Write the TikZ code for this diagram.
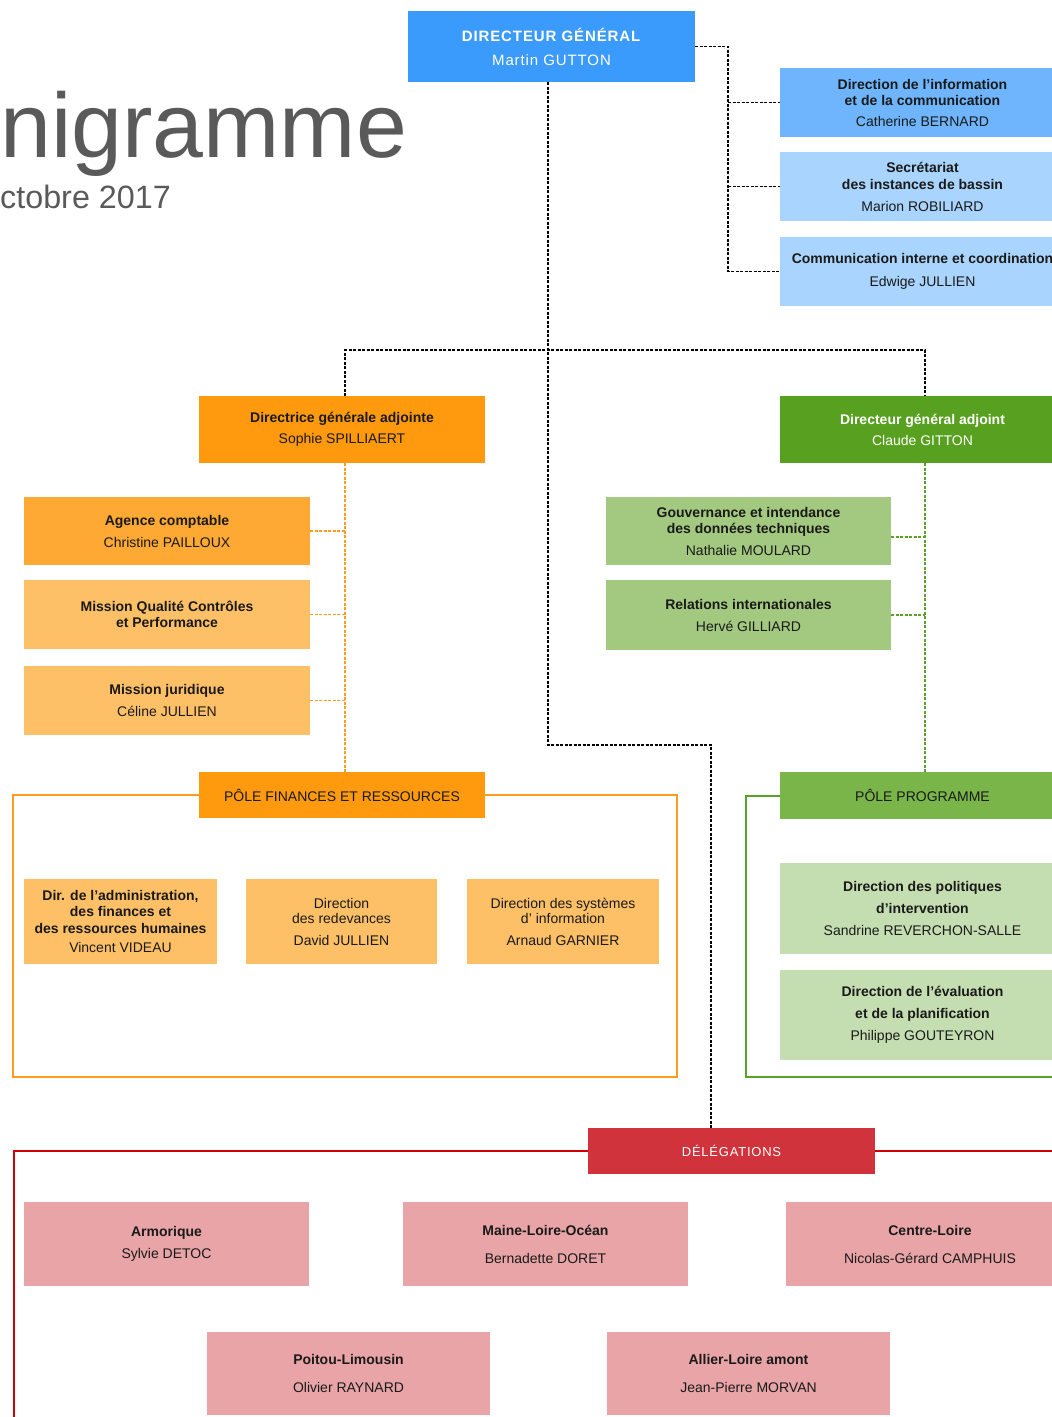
\documentclass[tikz,border=0pt]{standalone}
\usepackage{fontspec}
\setmainfont{Liberation Sans}
\usetikzlibrary{calc}
\definecolor{dgblue}{HTML}{3B9BFD}
\definecolor{midblue}{HTML}{6EB5FE}
\definecolor{ltblue}{HTML}{A9D4FE}
\definecolor{orgA}{HTML}{FF9A0E}
\definecolor{orgB}{HTML}{FFA935}
\definecolor{orgC}{HTML}{FEC067}
\definecolor{grnA}{HTML}{58A01F}
\definecolor{grnB}{HTML}{A3C87F}
\definecolor{grnC}{HTML}{7AB54A}
\definecolor{grnD}{HTML}{C5DEB1}
\definecolor{redA}{HTML}{D1333C}
\definecolor{pinkA}{HTML}{E8A4A7}
\definecolor{redline}{HTML}{CC0000}
\definecolor{orline}{HTML}{FF9B1E}
\definecolor{grline}{HTML}{5AA12A}
\definecolor{titlegray}{HTML}{5A5A5A}
\definecolor{txtc}{HTML}{1A1A1A}
\newcommand\bxfont{\fontsize{14}{16}\selectfont}
\begin{document}
\begin{tikzpicture}[x=1pt,y=-1pt,
  box/.style={rectangle, inner sep=0pt, outer sep=0pt, align=center, font=\bxfont, text=txtc},
  blk/.style={draw=black, line width=1.8pt, dash pattern=on 3pt off 1.5pt},
  orl/.style={draw=orline, line width=1.5pt, dash pattern=on 3pt off 1.5pt},
  grl/.style={draw=grline, line width=1.8pt, dash pattern=on 3pt off 1.5pt},
  orf/.style={draw=orline, line width=1.4pt},
  grf/.style={draw=grline, line width=2pt},
  rdf/.style={draw=redline, line width=2pt}]
\useasboundingbox (0,0) rectangle (1052,1417);
\fill[white] (0,0) rectangle (1052,1417);

% title
\node[anchor=base west, inner sep=0pt, text=titlegray, font=\fontsize{91.5}{91.5}\selectfont] (ttl) at (0,157) {nigramme};
\node[anchor=base west, inner sep=0pt, text=titlegray, font=\fontsize{32.3}{32.3}\selectfont] (sub) at (0,208) {ctobre 2017};

% director
\node[box, fill=dgblue, minimum width=287, minimum height=71, text=white, font=\fontsize{15}{24}\selectfont\addfontfeature{LetterSpace=6}] (dg) at (551.5,46.5) {\textbf{DIRECTEUR GÉNÉRAL}\\Martin GUTTON};

% attached to director
\node[box, fill=midblue, minimum width=285, minimum height=69] (i1) at (922.5,102.5) {\textbf{Direction de l'information}\\\textbf{et de la communication}\\[5pt]Catherine BERNARD};
\node[box, fill=ltblue, minimum width=285, minimum height=69] (i2) at (922.5,186.5) {\textbf{Secrétariat}\\[1pt]\textbf{des instances de bassin}\\[6pt]Marion ROBILIARD};
\node[box, fill=ltblue, minimum width=285, minimum height=69] (i3) at (922.5,271.5) {\textbf{Communication interne et coordination}\\[7pt]Edwige JULLIEN};

% deputies
\node[box, fill=orgA, minimum width=286, minimum height=67] (dga) at (342,429.5) {\textbf{Directrice générale adjointe}\\[5pt]Sophie SPILLIAERT};
\node[box, fill=grnA, minimum width=285, minimum height=67, text=white] (dgb) at (922.5,429.5) {\textbf{Directeur général adjoint}\\[5pt]Claude GITTON};

% left column
\node[box, fill=orgB, minimum width=286, minimum height=68] (ac) at (167,531) {\textbf{Agence comptable}\\[6pt]Christine PAILLOUX};
\node[box, fill=orgC, minimum width=286, minimum height=69] (mq) at (167,614.5) {\textbf{Mission Qualité Contrôles}\\\textbf{et Performance}};
\node[box, fill=orgC, minimum width=286, minimum height=69] (mj) at (167,700.5) {\textbf{Mission juridique}\\[6pt]Céline JULLIEN};
\node[box, fill=orgA, minimum width=286, minimum height=46] (pf) at (342,795) {PÔLE FINANCES ET RESSOURCES};
\node[box, fill=orgC, minimum width=193, minimum height=85] (d1) at (120.5,921.5) {\textbf{Dir. de l'administration,}\\[0.5pt]\textbf{des finances et}\\[1pt]\textbf{des ressources humaines}\\[3pt]Vincent VIDEAU};
\node[box, fill=orgC, minimum width=191, minimum height=85] (d2) at (341.5,921.5) {Direction\\[-1pt]des redevances\\[6pt]David JULLIEN};
\node[box, fill=orgC, minimum width=192, minimum height=85] (d3) at (563,921.5) {Direction des systèmes\\[-1pt]d' information\\[6pt]Arnaud GARNIER};

% right column
\node[box, fill=grnB, minimum width=285, minimum height=68] (gv) at (748.5,531) {\textbf{Gouvernance et intendance}\\\textbf{des données techniques}\\[6pt]Nathalie MOULARD};
\node[box, fill=grnB, minimum width=285, minimum height=70] (ri) at (748.5,615) {\textbf{Relations internationales}\\[6pt]Hervé GILLIARD};
\node[box, fill=grnC, minimum width=285, minimum height=47] (pp) at (922.5,795.5) {PÔLE PROGRAMME};
\node[box, fill=grnD, minimum width=285, minimum height=91] (dp) at (922.5,908.5) {\textbf{Direction des politiques}\\[6pt]\textbf{d'intervention}\\[6pt]Sandrine REVERCHON-SALLE};
\node[box, fill=grnD, minimum width=285, minimum height=90] (de) at (922.5,1015) {\textbf{Direction de l'évaluation}\\[6pt]\textbf{et de la planification}\\[6pt]Philippe GOUTEYRON};

% delegations
\node[box, fill=redA, minimum width=287, minimum height=46, text=white, font=\fontsize{13}{16}\selectfont\addfontfeature{LetterSpace=6}] (del) at (731.5,1151) {DÉLÉGATIONS};
\node[box, fill=pinkA, minimum width=285, minimum height=84] (arm) at (166.5,1244) {\textbf{Armorique}\\[6pt]Sylvie DETOC};
\node[box, fill=pinkA, minimum width=285, minimum height=84] (mlo) at (545.5,1244) {\textbf{Maine-Loire-Océan}\\[12pt]Bernadette DORET};
\node[box, fill=pinkA, minimum width=288, minimum height=84] (cl) at (930,1244) {\textbf{Centre-Loire}\\[12pt]Nicolas-Gérard CAMPHUIS};
\node[box, fill=pinkA, minimum width=283, minimum height=83] (pl) at (348.5,1373.5) {\textbf{Poitou-Limousin}\\[12pt]Olivier RAYNARD};
\node[box, fill=pinkA, minimum width=283, minimum height=83] (al) at (748.5,1373.5) {\textbf{Allier-Loire amont}\\[12pt]Jean-Pierre MORVAN};

% helper coordinates
\coordinate (dgs) at ($(dg.south)+(-3.5,0)$);
\coordinate (dln) at ($(del.north)+(-20.5,0)$);
\coordinate (dgan) at ($(dga.north)+(3,0)$);
\coordinate (dgbn) at ($(dgb.north)+(2.5,0)$);
\coordinate (dgas) at ($(dga.south)+(3,0)$);
\coordinate (dgbs) at ($(dgb.south)+(2.5,0)$);
\coordinate (ofa) at (13,795);
\coordinate (ofb) at (13,1077);
\coordinate (ofc) at (677,1077);
\coordinate (ofd) at (677,795);
\coordinate (gfa) at (746,795.5);
\coordinate (gfb) at (746,1077);
\coordinate (gfc) at (1055,1077);
\coordinate (rfa) at (14,1151);
\coordinate (rfb) at (14,1425);
\coordinate (rfc) at (1055,1151);

% black connectors
\draw[blk] (dg.east) -| ([xshift=-52pt]i3.west) -- (i3.west);
\draw[blk] ([xshift=-52pt]i1.west) -- (i1.west);
\draw[blk] ([xshift=-52pt]i2.west) -- (i2.west);
\draw[blk] (dgs) -- (dgs |- 0,745) -| (dln);
\draw[blk] (dgan) -- (dgan |- 0,350) -| (dgbn);

% orange connectors
\draw[orl] (dgas) -- (dgas |- pf.north);
\draw[orl] (ac.east) -- (ac.east -| dgas);
\draw[orl] (mq.east) -- (mq.east -| dgas);
\draw[orl] (mj.east) -- (mj.east -| dgas);

% green connectors
\draw[grl] (dgbs) -- (dgbs |- pp.north);
\draw[grl] ([yshift=-6pt]gv.east) -- ([yshift=-6pt]gv.east -| dgbs);
\draw[grl] (ri.east) -- (ri.east -| dgbs);

% frames
\draw[orf] (pf.west) -- (ofa) -- (ofb) -- (ofc) -- (ofd) -- (pf.east);
\draw[grf] (pp.west) -- (gfa) -- (gfb) -- (gfc);
\draw[rdf] (del.west) -- (rfa) -- (rfb);
\draw[rdf] (del.east) -- (rfc);
\end{tikzpicture}
\end{document}
